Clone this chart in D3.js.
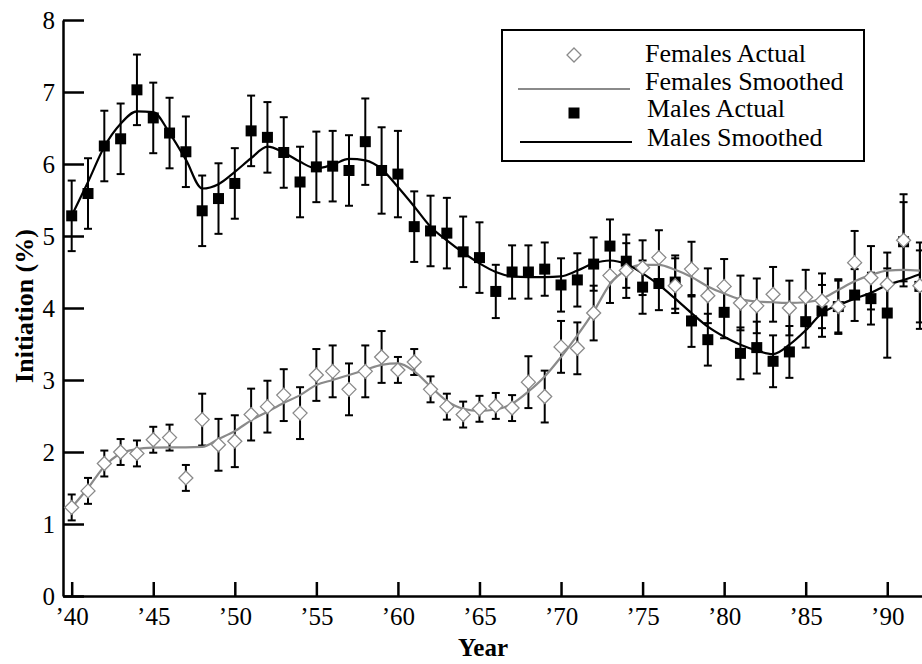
<!DOCTYPE html>
<html><head><meta charset="utf-8">
<script src="https://cdn.jsdelivr.net/npm/d3@7"></script>
<style>body{margin:0;background:#fff}svg{display:block}</style>
</head><body>
<svg id="c" width="922" height="664"></svg>
<script>
const years = d3.range(40, 93);
const yTicks = [0,1,2,3,4,5,6,7,8];
const xTicks = [40,45,50,55,60,65,70,75,80,85,90];
const xTickLabels = ["’40","’45","’50","’55","’60","’65","’70","’75","’80","’85","’90"];

const malesActual = [5.28,5.59,6.25,6.35,7.03,6.64,6.43,6.17,5.35,5.52,5.73,6.46,6.37,6.16,5.75,5.96,5.97,5.91,6.31,5.91,5.86,5.13,5.07,5.04,4.78,4.70,4.23,4.50,4.50,4.54,4.32,4.39,4.61,4.86,4.65,4.29,4.34,4.36,3.82,3.56,3.94,3.37,3.45,3.26,3.39,3.81,3.96,4.02,4.18,4.13,3.93,4.92,4.30];
const malesErr = [0.49,0.49,0.49,0.49,0.49,0.49,0.49,0.49,0.49,0.49,0.49,0.49,0.49,0.49,0.49,0.49,0.49,0.49,0.6,0.6,0.6,0.49,0.49,0.49,0.49,0.49,0.37,0.37,0.37,0.37,0.37,0.37,0.37,0.37,0.37,0.37,0.37,0.37,0.36,0.36,0.36,0.36,0.36,0.36,0.36,0.36,0.36,0.36,0.36,0.36,0.62,0.55,0.5];
const malesSmoothed = [5.28,5.75,6.24,6.56,6.73,6.72,6.43,6.06,5.66,5.72,5.89,6.08,6.24,6.16,6.03,5.94,5.99,6.07,6.05,5.93,5.68,5.41,5.13,4.94,4.77,4.62,4.50,4.44,4.43,4.43,4.44,4.52,4.62,4.66,4.61,4.48,4.32,4.13,3.93,3.74,3.60,3.49,3.41,3.36,3.49,3.69,3.93,4.04,4.13,4.21,4.32,4.39,4.47];

const femalesActual = [1.23,1.46,1.84,2.00,1.98,2.17,2.20,1.64,2.45,2.10,2.15,2.52,2.63,2.79,2.54,3.07,3.12,2.87,3.12,3.32,3.14,3.25,2.87,2.63,2.52,2.60,2.64,2.61,2.97,2.77,3.46,3.44,3.93,4.45,4.52,4.56,4.70,4.31,4.54,4.17,4.30,4.07,4.03,4.19,4.00,4.15,4.10,4.02,4.63,4.42,4.33,4.94,4.31];
const femalesErr = [0.18,0.18,0.18,0.18,0.18,0.18,0.18,0.18,0.36,0.36,0.36,0.36,0.36,0.36,0.36,0.36,0.36,0.36,0.36,0.36,0.18,0.18,0.18,0.18,0.18,0.18,0.18,0.18,0.36,0.36,0.36,0.36,0.38,0.38,0.38,0.38,0.38,0.38,0.38,0.38,0.38,0.38,0.38,0.38,0.38,0.38,0.38,0.38,0.44,0.44,0.44,0.64,0.6];
const femalesSmoothed = [1.23,1.50,1.80,1.98,2.04,2.06,2.065,2.065,2.07,2.18,2.29,2.44,2.56,2.68,2.79,2.93,3.00,3.07,3.14,3.21,3.23,3.12,2.91,2.71,2.60,2.57,2.59,2.67,2.84,3.05,3.32,3.62,3.95,4.33,4.53,4.60,4.60,4.53,4.43,4.30,4.20,4.12,4.09,4.08,4.07,4.08,4.13,4.25,4.37,4.46,4.52,4.53,4.52];

const legendLabels = ["Females Actual","Females Smoothed","Males Actual","Males Smoothed"];

const GRAY = "#8a8a8a";
const FONT = "'Liberation Serif','Times New Roman',serif";
const svg = d3.select("#c");
const x = d3.scaleLinear().domain([39.467, 92.13]).range([63, 922]);
const y = d3.scaleLinear().domain([0, 8]).range([596, 20]);

// axes
const yAxis = d3.axisLeft(y).tickValues(yTicks).tickFormat(d3.format("d")).tickSizeInner(-21).tickSizeOuter(0).tickPadding(8);
const gy = svg.append("g").attr("transform","translate(63,0)").call(yAxis);
const xAxis = d3.axisBottom(x).tickValues(xTicks).tickFormat((d,i)=>xTickLabels[i]).tickSizeInner(-14).tickSizeOuter(0).tickPadding(11);
const gx = svg.append("g").attr("transform","translate(0,596)").call(xAxis);
[gx, gy].forEach(g => {
  g.select(".domain").attr("stroke","#000").attr("stroke-width",2.5);
  g.selectAll(".tick line").attr("stroke","#000").attr("stroke-width",2.5);
  g.selectAll(".tick text").attr("fill","#000").style("font-family",FONT).style("font-size","25px");
});

// titles
svg.append("text").attr("x",483).attr("y",656).attr("text-anchor","middle")
  .style("font-family",FONT).style("font-size","25px").style("font-weight","bold").text("Year");
svg.append("text").attr("transform","translate(33,306) rotate(-90)").attr("text-anchor","middle")
  .style("font-family",FONT).style("font-size","26px").style("font-weight","bold").text("Initiation (%)");

const males = years.map((yr,i)=>({yr, v:malesActual[i], e:malesErr[i], s:malesSmoothed[i]}));
const females = years.map((yr,i)=>({yr, v:femalesActual[i], e:femalesErr[i], s:femalesSmoothed[i]}));

const plot = svg.append("g");
function errorBars(data){
  const g = plot.append("g").attr("stroke","#000").attr("stroke-width",2);
  data.forEach(d=>{
    const cx = x(d.yr), t = y(d.v + d.e), b = y(d.v - d.e);
    g.append("line").attr("x1",cx).attr("x2",cx).attr("y1",t).attr("y2",b);
    g.append("line").attr("x1",cx-4).attr("x2",cx+4).attr("y1",t).attr("y2",t);
    g.append("line").attr("x1",cx-4).attr("x2",cx+4).attr("y1",b).attr("y2",b);
  });
}
errorBars(males);
errorBars(females);

const line = d3.line().x(d=>x(d.yr)).y(d=>y(d.s)).curve(d3.curveMonotoneX);
plot.append("path").datum(females).attr("d",line).attr("fill","none").attr("stroke",GRAY).attr("stroke-width",2.2);
plot.append("path").datum(males).attr("d",line).attr("fill","none").attr("stroke","#000").attr("stroke-width",2.2);

const sq = 11;
plot.append("g").selectAll("rect").data(males).join("rect")
  .attr("x",d=>x(d.yr)-sq/2).attr("y",d=>y(d.v)-sq/2).attr("width",sq).attr("height",sq).attr("fill","#000");

const diamond = (cx,cy,r)=>`M${cx},${cy-r}L${cx+r},${cy}L${cx},${cy+r}L${cx-r},${cy}Z`;
plot.append("g").selectAll("path").data(females).join("path")
  .attr("d",d=>diamond(x(d.yr),y(d.v),7)).attr("fill","#fff").attr("stroke",GRAY).attr("stroke-width",1.3);

// legend
const lg = svg.append("g");
lg.append("rect").attr("x",502).attr("y",30).attr("width",362).attr("height",131)
  .attr("fill","#fff").attr("stroke","#000").attr("stroke-width",2);
lg.append("path").attr("d",diamond(574,55,7)).attr("fill","#fff").attr("stroke",GRAY).attr("stroke-width",1.3);
lg.append("line").attr("x1",518).attr("x2",630).attr("y1",89).attr("y2",89).attr("stroke",GRAY).attr("stroke-width",2.2);
lg.append("rect").attr("x",574-sq/2).attr("y",113-sq/2).attr("width",sq).attr("height",sq).attr("fill","#000");
lg.append("line").attr("x1",520).attr("x2",632).attr("y1",142).attr("y2",142).attr("stroke","#000").attr("stroke-width",2.2);
const lgY = [62,90,117,146];
legendLabels.forEach((t,i)=>{
  lg.append("text").attr("x",i<2?645:647).attr("y",lgY[i]).style("font-family",FONT).style("font-size","26px").text(t);
});
</script>
</body></html>
